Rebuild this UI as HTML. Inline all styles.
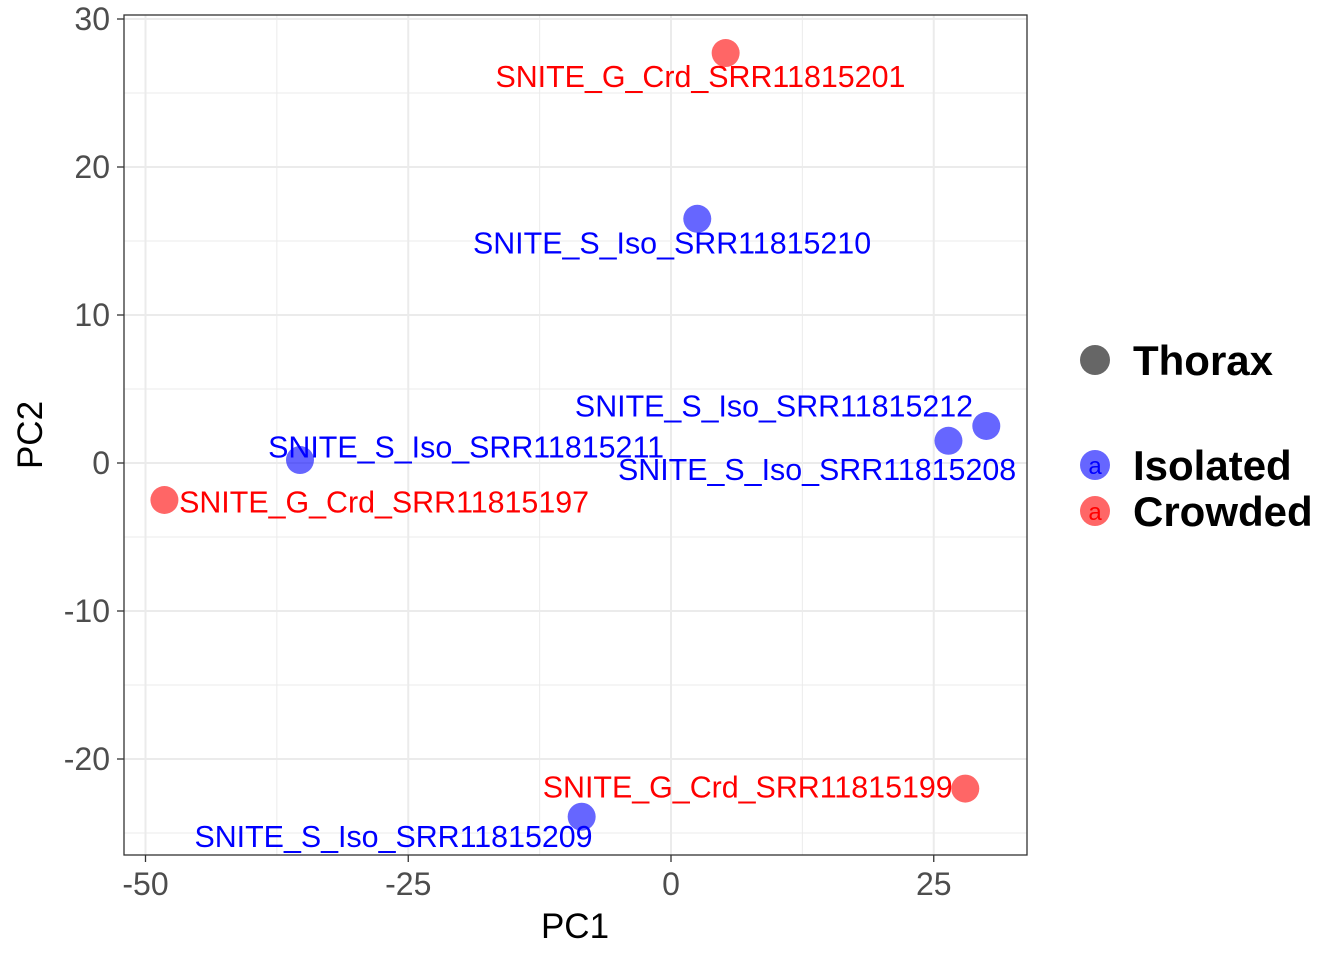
<!DOCTYPE html>
<html><head><meta charset="utf-8"><style>
body{margin:0;background:#fff}
svg text{font-family:"Liberation Sans",Arial,sans-serif}
</style></head><body>
<svg id="chart" width="1344" height="960" xmlns="http://www.w3.org/2000/svg">
<g id="grid"></g>
<g id="marks"></g>
<g id="labels"></g>
<rect x="124" y="15" width="903" height="840" fill="none" stroke="#333" stroke-width="1.3"/>
<g id="axes"></g>
<text x="575" y="938" font-size="35" text-anchor="middle">PC1</text>
<text x="0" y="0" font-size="35" text-anchor="middle" transform="translate(42,435) rotate(-90)">PC2</text>
<g>
<circle cx="1095" cy="360" r="15" fill="#666"/>
<text x="1133" y="375" font-size="42" font-weight="bold">Thorax</text>
<circle cx="1095" cy="465" r="15" fill="#0000ff" fill-opacity="0.6"/>
<text x="1095" y="474" font-size="24" text-anchor="middle" fill="#0000ff">a</text>
<text x="1133" y="480" font-size="42" font-weight="bold">Isolated</text>
<circle cx="1095" cy="511" r="15" fill="#ff0000" fill-opacity="0.6"/>
<text x="1095" y="520" font-size="24" text-anchor="middle" fill="#ff0000">a</text>
<text x="1133" y="526" font-size="42" font-weight="bold">Crowded</text>
</g>
</svg>
<script>
const names=["SNITE_G_Crd_SRR11815201","SNITE_S_Iso_SRR11815210","SNITE_S_Iso_SRR11815212","SNITE_S_Iso_SRR11815208","SNITE_S_Iso_SRR11815211","SNITE_G_Crd_SRR11815197","SNITE_G_Crd_SRR11815199","SNITE_S_Iso_SRR11815209"];
const groups=["Crowded","Isolated","Isolated","Isolated","Isolated","Crowded","Crowded","Isolated"];
const pc1=[5.2,2.5,30.0,26.4,-35.3,-48.2,28.0,-8.5];
const pc2=[27.7,16.5,2.5,1.5,0.2,-2.5,-22.0,-23.9];
const labelX=[2.8,0.1,9.8,13.9,-19.5,-27.3,7.3,-26.4];
const labelY=[26.15,14.9,3.9,-0.4,1.1,-2.6,-21.85,-25.2];
const xTicks=[-50,-25,0,25];
const yTicks=[-20,-10,0,10,20,30];
const xs=v=>671+v*10.51;
const ys=v=>463-v*14.8;
const NS="http://www.w3.org/2000/svg";
function mk(t,a,p){const e=document.createElementNS(NS,t);for(const k in a)e.setAttribute(k,a[k]);p.appendChild(e);return e;}
const grid=document.getElementById('grid'),axes=document.getElementById('axes');
mk('rect',{x:124,y:15,width:903,height:840,fill:'#fff'},grid);
for(let v=-50;v<=30;v+=12.5){const l=mk('line',{x1:xs(v),x2:xs(v),y1:15,y2:855,stroke:'#ebebeb','stroke-width':v%25===0?2:1},grid);

}
for(let v=-25;v<=30;v+=5){const l=mk('line',{y1:ys(v),y2:ys(v),x1:124,x2:1027,stroke:'#ebebeb','stroke-width':v%10===0?2:1},grid);

}
xTicks.forEach(v=>{mk('line',{x1:xs(v),x2:xs(v),y1:855,y2:862,stroke:'#333','stroke-width':1.3},axes);
const t=mk('text',{x:xs(v),y:895,'font-size':32,'text-anchor':'middle',fill:'#4d4d4d'},axes);t.textContent=v;

});
yTicks.forEach(v=>{mk('line',{x1:117,x2:124,y1:ys(v),y2:ys(v),stroke:'#333','stroke-width':1.3},axes);
const t=mk('text',{x:110,y:ys(v)+11,'font-size':32,'text-anchor':'end',fill:'#4d4d4d'},axes);t.textContent=v;

});
const marks=document.getElementById('marks'),labs=document.getElementById('labels');
names.forEach((n,i)=>{const col=groups[i]==='Crowded'?'#ff0000':'#0000ff';
const c=mk('circle',{cx:xs(pc1[i]),cy:ys(pc2[i]),r:14,fill:col,'fill-opacity':0.6},marks);


const t=mk('text',{x:xs(labelX[i]),y:ys(labelY[i])+11,'font-size':30.4,'text-anchor':'middle',fill:col},labs);t.textContent=n;

});
</script>
</body></html>
